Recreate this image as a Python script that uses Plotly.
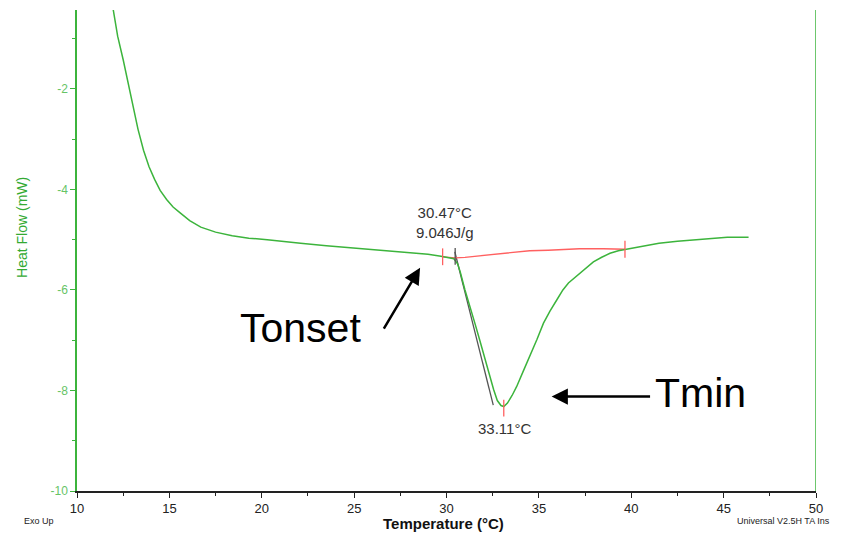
import plotly.graph_objects as go

# DSC curve (Temperature °C, Heat Flow mW)
temp = [11.95, 12.2, 12.5, 12.8, 13.05, 13.3, 13.6, 13.9, 14.2, 14.5, 14.85, 15.2, 15.6, 16.1,
        16.7, 17.5, 18.4, 19.3, 20.3, 21.2, 22.1, 23.5, 25.0, 26.4, 27.8, 29.0, 29.7, 30.1,
        30.4, 30.6, 30.75, 31.0, 31.3, 31.55, 31.8, 32.05, 32.3, 32.55, 32.75, 32.95, 33.1,
        33.3, 33.55, 33.8, 34.15, 34.5, 34.9, 35.25, 35.6, 36.0, 36.3, 36.6, 37.05, 37.5,
        37.95, 38.4, 38.85, 39.3, 39.7, 40.5, 41.5, 42.5, 43.4, 44.3, 45.2, 46.35]
heat = [-0.4, -0.95, -1.42, -1.95, -2.42, -2.8, -3.22, -3.55, -3.8, -4.02, -4.2, -4.35, -4.47,
        -4.62, -4.75, -4.85, -4.92, -4.97, -5.0, -5.04, -5.07, -5.12, -5.17, -5.21, -5.26,
        -5.29, -5.33, -5.36, -5.38, -5.48, -5.65, -6.0, -6.35, -6.68, -7.0, -7.33, -7.66,
        -7.98, -8.2, -8.3, -8.32, -8.25, -8.1, -7.92, -7.62, -7.33, -6.98, -6.66, -6.42,
        -6.18, -6.0, -5.86, -5.72, -5.58, -5.44, -5.35, -5.27, -5.22, -5.19, -5.13, -5.07,
        -5.03, -5.0, -4.97, -4.95, -4.95]

# integration baseline
base_t = [29.79, 30.47, 31.0, 31.8, 32.8, 33.8, 34.5, 35.5, 36.5, 37.2, 38.5, 39.66]
base_h = [-5.34, -5.36, -5.35, -5.32, -5.28, -5.25, -5.22, -5.21, -5.19, -5.18, -5.18, -5.19]

# onset tangent
tan_t = [30.45, 32.53]
tan_h = [-5.24, -8.29]

# limit / peak markers
red_mark_t = [29.79, 39.66, 33.1]
red_mark_h = [-5.34, -5.19, -8.35]
onset_mark_t = [30.47]
onset_mark_h = [-5.33]

x_ticks = [10, 15, 20, 25, 30, 35, 40, 45, 50]
y_ticks = [-10, -8, -6, -4, -2]

GREEN = "#3cb43c"
RED = "#ff6060"
FONT = "Liberation Sans"

fig = go.Figure()
fig.add_trace(go.Scatter(x=tan_t, y=tan_h, mode="lines",
                         line=dict(color="#555555", width=1.3), hoverinfo="skip"))
fig.add_trace(go.Scatter(x=base_t, y=base_h, mode="lines",
                         line=dict(color=RED, width=1.3), hoverinfo="skip"))
fig.add_trace(go.Scatter(x=temp, y=heat, mode="lines",
                         line=dict(color=GREEN, width=1.5)))
fig.add_trace(go.Scatter(x=red_mark_t, y=red_mark_h, mode="markers",
                         marker=dict(symbol="line-ns", size=12,
                                     line=dict(color=RED, width=1.3))))
fig.add_trace(go.Scatter(x=onset_mark_t, y=onset_mark_h, mode="markers",
                         marker=dict(symbol="line-ns", size=12,
                                     line=dict(color="#555555", width=1.3))))

# page body has an 8px default margin, so the figure is offset by 8px
fig.update_layout(
    width=838, height=533,
    margin=dict(l=69, r=30, t=2, b=50, autoexpand=False),
    paper_bgcolor="white", plot_bgcolor="white",
    showlegend=False,
    xaxis=dict(range=[10, 50], tickvals=x_ticks, ticktext=[str(v) for v in x_ticks],
               showgrid=False, zeroline=False, showline=True, linecolor="#222222",
               linewidth=1.5, ticks="outside", ticklen=5, tickcolor="#222222",
               tickfont=dict(family=FONT, size=13, color="#222222"),
               minor=dict(dtick=2.5, ticks="outside", ticklen=3, tickcolor="#222222"),
               automargin=False),
    yaxis=dict(range=[-10, -0.43], tickvals=y_ticks, ticktext=[str(v) for v in y_ticks],
               showgrid=False, zeroline=False, showline=True, linecolor=GREEN,
               linewidth=1.5, ticks="outside", ticklen=5, tickcolor=GREEN,
               tickfont=dict(family=FONT, size=12, color="#66c466"),
               minor=dict(dtick=1, ticks="outside", ticklen=3, tickcolor=GREEN),
               automargin=False),
)

# right-hand green axis line
fig.add_shape(type="line", xref="x", yref="paper", x0=50, x1=50, y0=0, y1=1,
              line=dict(color=GREEN, width=1.5))

# axis titles
fig.add_annotation(xref="paper", yref="paper", x=-0.088, y=0.549, text="Heat Flow (mW)",
                   textangle=-90, showarrow=False,
                   font=dict(family=FONT, size=14, color="#33aa33"))
fig.add_annotation(xref="paper", yref="paper", x=0.4966, y=-0.067, text="<b>Temperature (°C)</b>",
                   showarrow=False, yanchor="middle",
                   font=dict(family=FONT, size=15, color="#111111"))

fig.add_annotation(x=29.9, y=-4.65, text="30.47°C<br>9.046J/g", showarrow=False,
                   font=dict(family=FONT, size=15, color="#333333"),
                   align="center")
fig.add_annotation(x=33.15, y=-8.75, text="33.11°C", showarrow=False,
                   font=dict(family=FONT, size=15, color="#333333"))

fig.add_annotation(x=22.12, y=-6.76, text="Tonset", showarrow=False,
                   font=dict(family=FONT, size=41, color="#000000"))
fig.add_annotation(x=28.57, y=-5.56, ax=26.56, ay=-6.8, axref="x", ayref="y",
                   text="", showarrow=True, arrowhead=2, arrowsize=1.3, arrowwidth=2.5,
                   arrowcolor="#000000")
fig.add_annotation(x=41.15, y=-8.05, text="Tmin", showarrow=False, xanchor="left",
                   font=dict(family=FONT, size=41, color="#000000"))
fig.add_annotation(x=35.69, y=-8.12, ax=41.1, ay=-8.12, axref="x", ayref="y",
                   text="", showarrow=True, arrowhead=2, arrowsize=1.3, arrowwidth=2.5,
                   arrowcolor="#000000")

fig.add_annotation(xref="paper", yref="paper", x=-0.0744, y=-0.062, xanchor="left",
                   yanchor="middle", text="Exo Up", showarrow=False,
                   font=dict(family=FONT, size=9, color="#222222"))
fig.add_annotation(xref="paper", yref="paper", x=0.891, y=-0.062, xanchor="left",
                   yanchor="middle", text="Universal V2.5H TA Ins", showarrow=False,
                   font=dict(family=FONT, size=9, color="#222222"))

fig.write_html("out.html")
